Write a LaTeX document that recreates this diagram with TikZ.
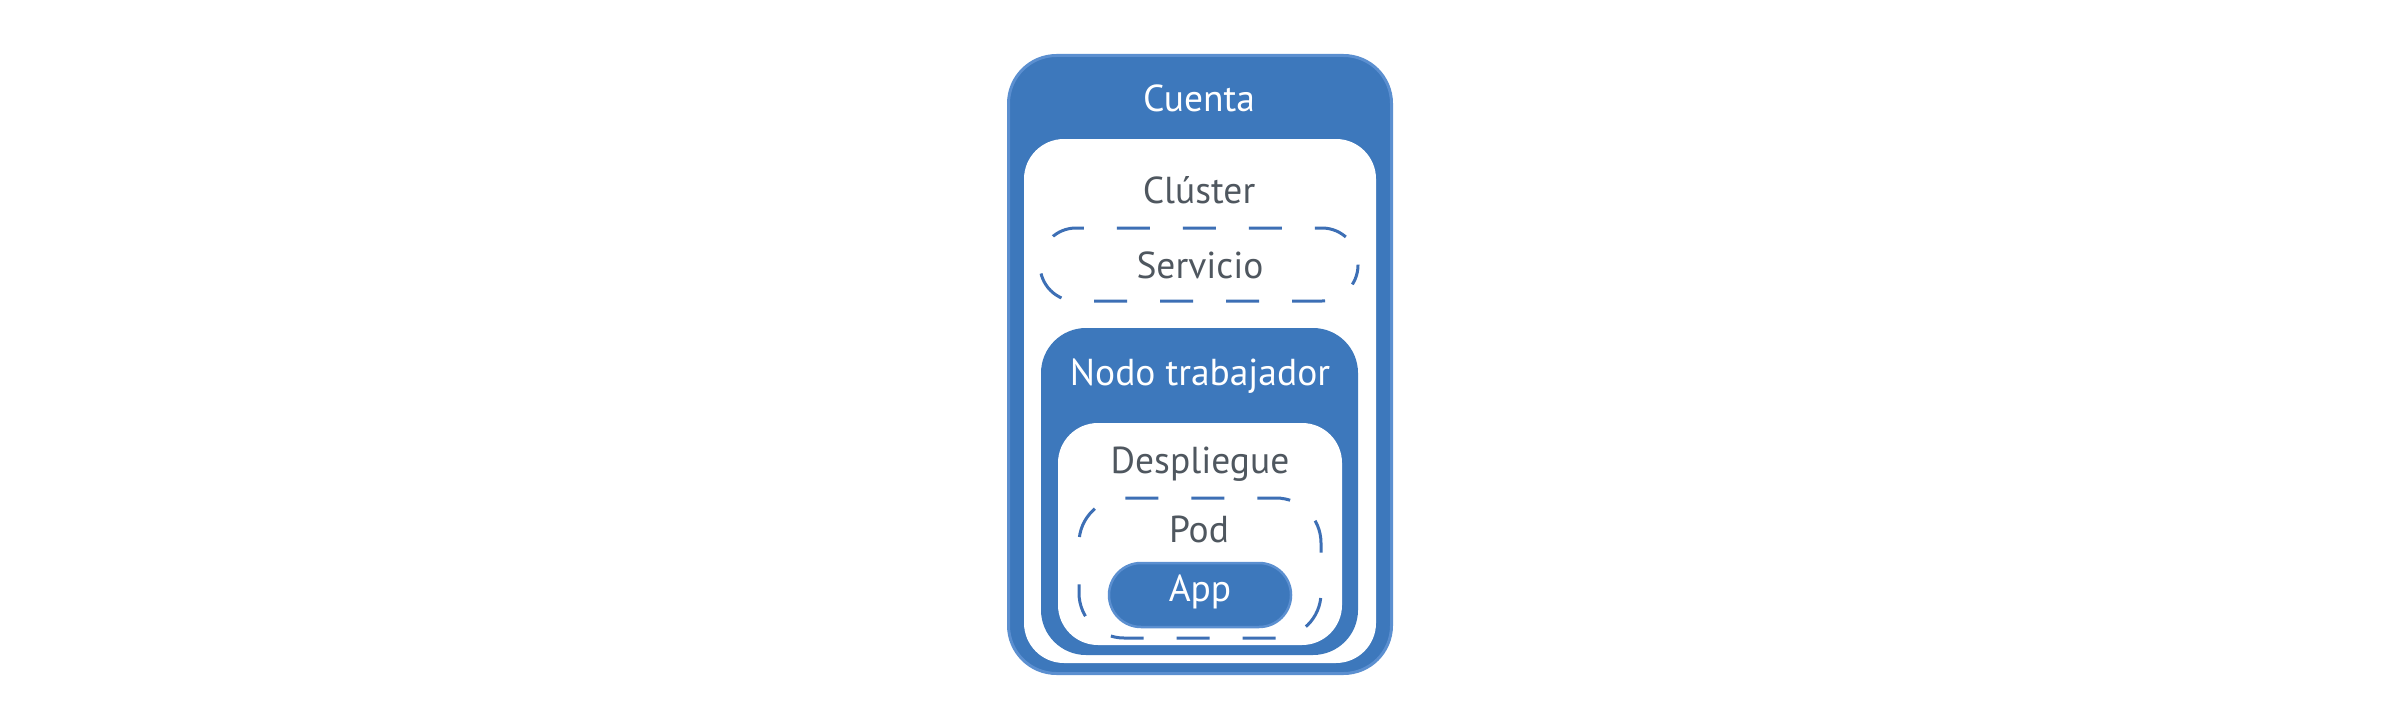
\documentclass[tikz,border=0pt]{standalone}
\usepackage{fontspec}
\setmainfont{PT Sans}
\definecolor{boxblue}{HTML}{3D78BC}
\definecolor{rimblue}{HTML}{5B8FD0}
\definecolor{dashblue}{HTML}{3D6FB5}
\definecolor{labgray}{HTML}{4F575F}
\tikzset{
  bluebox/.style={fill=boxblue, draw=rimblue, line width=3pt, inner sep=0pt, outer sep=0pt},
  whitebox/.style={fill=white, draw=none, inner sep=0pt, outer sep=0pt},
  ghostbox/.style={draw=none, inner sep=0pt, outer sep=0pt},
  dashline/.style={draw=dashblue, line width=3pt, dash pattern=on 33pt off 33pt},
  wlab/.style={text=white, font=\fontsize{37.5}{40}\selectfont, anchor=base, inner sep=0pt},
  glab/.style={text=labgray, font=\fontsize{37.5}{40}\selectfont, anchor=base, inner sep=0pt}
}
\begin{document}
\begin{tikzpicture}[x=1pt,y=-1pt]
\useasboundingbox (0,0) rectangle (2397,717);
\node[bluebox, rounded corners=48pt, minimum width=383pt, minimum height=618pt] (cuenta) at (1200,364.5) {};
\node[whitebox, rounded corners=40pt, minimum width=352pt, minimum height=524pt] (cluster) at (1200,401) {};
\node[ghostbox, minimum width=318pt, minimum height=73pt] (servicio) at (1199,264.5) {};
\draw[dashline, dash phase=34pt, rounded corners=36pt] (servicio.west) -- (servicio.north west) -- (servicio.north east) -- (servicio.east);
\draw[dashline, dash phase=12pt, rounded corners=36pt] (servicio.east) -- (servicio.south east) -- (servicio.south west) -- (servicio.west);
\node[bluebox, draw=none, rounded corners=45pt, minimum width=317pt, minimum height=327pt] (nodo) at (1199.5,491.5) {};
\node[whitebox, rounded corners=40pt, minimum width=284pt, minimum height=222pt] (despliegue) at (1200,534) {};
\node[ghostbox, minimum width=242pt, minimum height=140pt] (pod) at (1200,568) {};
\draw[dashline, dash phase=35pt, rounded corners=45pt] (pod.west) -- (pod.north west) -- (pod.north east) -- (pod.east);
\draw[dashline, dash phase=36pt, rounded corners=45pt] (pod.east) -- (pod.south east) -- (pod.south west) -- (pod.west);
\node[bluebox, line width=2.5pt, rounded corners=32pt, minimum width=182pt, minimum height=64pt] (app) at (1200,595) {};
\node[wlab] (tcuenta) at (1199,111) {Cuenta};
\node[glab] (tcluster) at (1199,203) {Clúster};
\node[glab] (tservicio) at (1200,278) {Servicio};
\node[wlab] (tnodo) at (1200,385) {Nodo trabajador};
\node[glab] (tdespliegue) at (1200,473) {Despliegue};
\node[glab] (tpod) at (1199,542) {Pod};
\node[wlab] (tapp) at (1200,601) {App};
\end{tikzpicture}
\end{document}
